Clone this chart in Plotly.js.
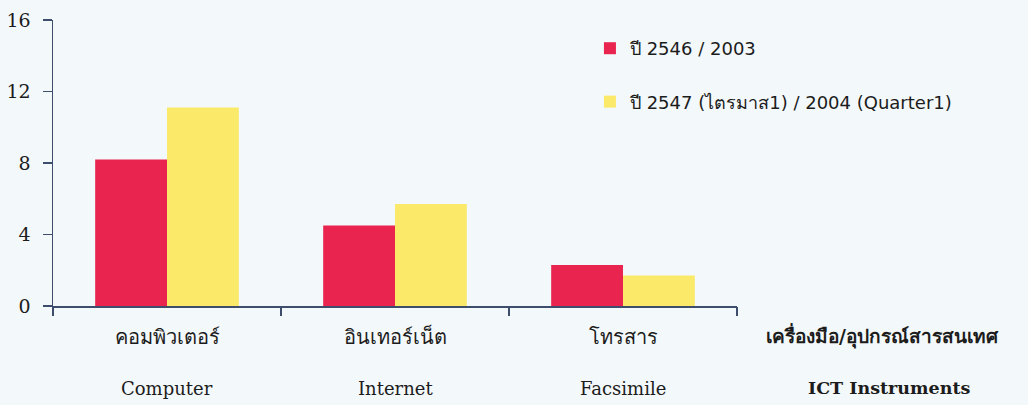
<!DOCTYPE html>
<html>
<head>
<meta charset="utf-8">
<script src="https://cdn.plot.ly/plotly-3.0.1.min.js"></script>
<style>
  html, body { margin: 0; padding: 0; background: #f3f8fa; }
  #chart { width: 1028px; height: 405px; }
</style>
</head>
<body>
<div id="chart"></div>
<script>
// Data
const categoriesThai = ["คอมพิวเตอร์", "อินเทอร์เน็ต", "โทรสาร"];
const categoriesEng = ["Computer", "Internet", "Facsimile"];
const series2003 = [8.2, 4.5, 2.3];
const series2004Q1 = [11.1, 5.7, 1.7];
const seriesNames = ["ปี 2546 / 2003", "ปี 2547 (ไตรมาส1) / 2004 (Quarter1)"];
const yTicks = [0, 4, 8, 12, 16];
const axisTitleThai = "เครื่องมือ/อุปกรณ์สารสนเทศ";
const axisTitleEng = "ICT Instruments";

const axisColor = "#3d4d6b";
const textColor = "#1c1c1c";
const thaiFont = "DejaVu Sans, Noto Sans, sans-serif";
const serifFont = "DejaVu Serif, Liberation Serif, serif";

const idx = categoriesThai.map((_, i) => i);

const traces = [
  {
    type: "bar",
    name: seriesNames[0],
    x: idx,
    y: series2003,
    marker: { color: "#e8244f" },
    legendgroup: "a",
    hoverinfo: "y"
  },
  {
    type: "bar",
    name: seriesNames[1],
    x: idx,
    y: series2004Q1,
    marker: { color: "#fbe96a" },
    legendgroup: "b",
    hoverinfo: "y"
  },
  {
    // invisible helper so the second x axis (boundary ticks) is drawn
    type: "scatter",
    x: idx,
    y: [null, null, null],
    xaxis: "x2",
    showlegend: false,
    hoverinfo: "skip"
  }
];

const layout = {
  width: 1028,
  height: 405,
  paper_bgcolor: "#f3f8fa",
  plot_bgcolor: "#f3f8fa",
  margin: { l: 53, r: 291, t: 20, b: 99 },
  barmode: "group",
  bargap: 0.37,
  bargroupgap: 0,
  showlegend: true,
  legend: {
    x: 0.785,
    y: 0.965,
    xanchor: "left",
    yanchor: "top",
    bgcolor: "rgba(0,0,0,0)",
    traceorder: "grouped",
    tracegroupgap: 27,
    font: { family: thaiFont, size: 18, color: textColor }
  },
  xaxis: {
    type: "linear",
    range: [-0.5, 2.5],
    tickmode: "array",
    tickvals: idx,
    ticktext: categoriesThai,
    ticks: "",
    showline: true,
    linecolor: axisColor,
    linewidth: 1.5,
    showgrid: false,
    zeroline: false,
    ticklabelstandoff: 12,
    tickfont: { family: thaiFont, size: 20, color: textColor },
    fixedrange: true
  },
  xaxis2: {
    type: "linear",
    overlaying: "x",
    anchor: "y",
    side: "bottom",
    range: [-0.5, 2.5],
    tickmode: "array",
    tickvals: idx.map(i => i - 0.5).concat([2.5]),
    ticktext: idx.map(() => "").concat([""]),
    ticks: "outside",
    ticklen: 9,
    tickwidth: 1.5,
    tickcolor: axisColor,
    showline: false,
    showgrid: false,
    zeroline: false,
    fixedrange: true
  },
  yaxis: {
    range: [0, 16],
    tickmode: "array",
    tickvals: yTicks,
    ticktext: yTicks.map(String),
    ticks: "outside",
    ticklen: 9,
    tickwidth: 1.5,
    tickcolor: axisColor,
    showline: true,
    linecolor: axisColor,
    linewidth: 1.5,
    showgrid: false,
    zeroline: false,
    ticklabelstandoff: 8,
    tickfont: { family: serifFont, size: 19, color: textColor },
    fixedrange: true
  },
  annotations: [
    ...categoriesEng.map((t, i) => ({
      xref: "x", yref: "paper",
      x: idx[i], y: 0,
      yshift: -82,
      text: t,
      showarrow: false,
      yanchor: "middle",
      font: { family: serifFont, size: 18, color: textColor }
    })),
    {
      xref: "paper", yref: "paper",
      x: 1.213, y: 0, yshift: -30,
      text: "<b>" + axisTitleThai + "</b>",
      showarrow: false,
      xanchor: "center", yanchor: "middle",
      font: { family: thaiFont, size: 19, color: textColor }
    },
    {
      xref: "paper", yref: "paper",
      x: 1.222, y: 0, yshift: -82,
      text: "<b>" + axisTitleEng + "</b>",
      showarrow: false,
      xanchor: "center", yanchor: "middle",
      font: { family: serifFont, size: 17.5, color: textColor }
    }
  ]
};

Plotly.newPlot("chart", traces, layout, { displayModeBar: false, staticPlot: true });
</script>
</body>
</html>
